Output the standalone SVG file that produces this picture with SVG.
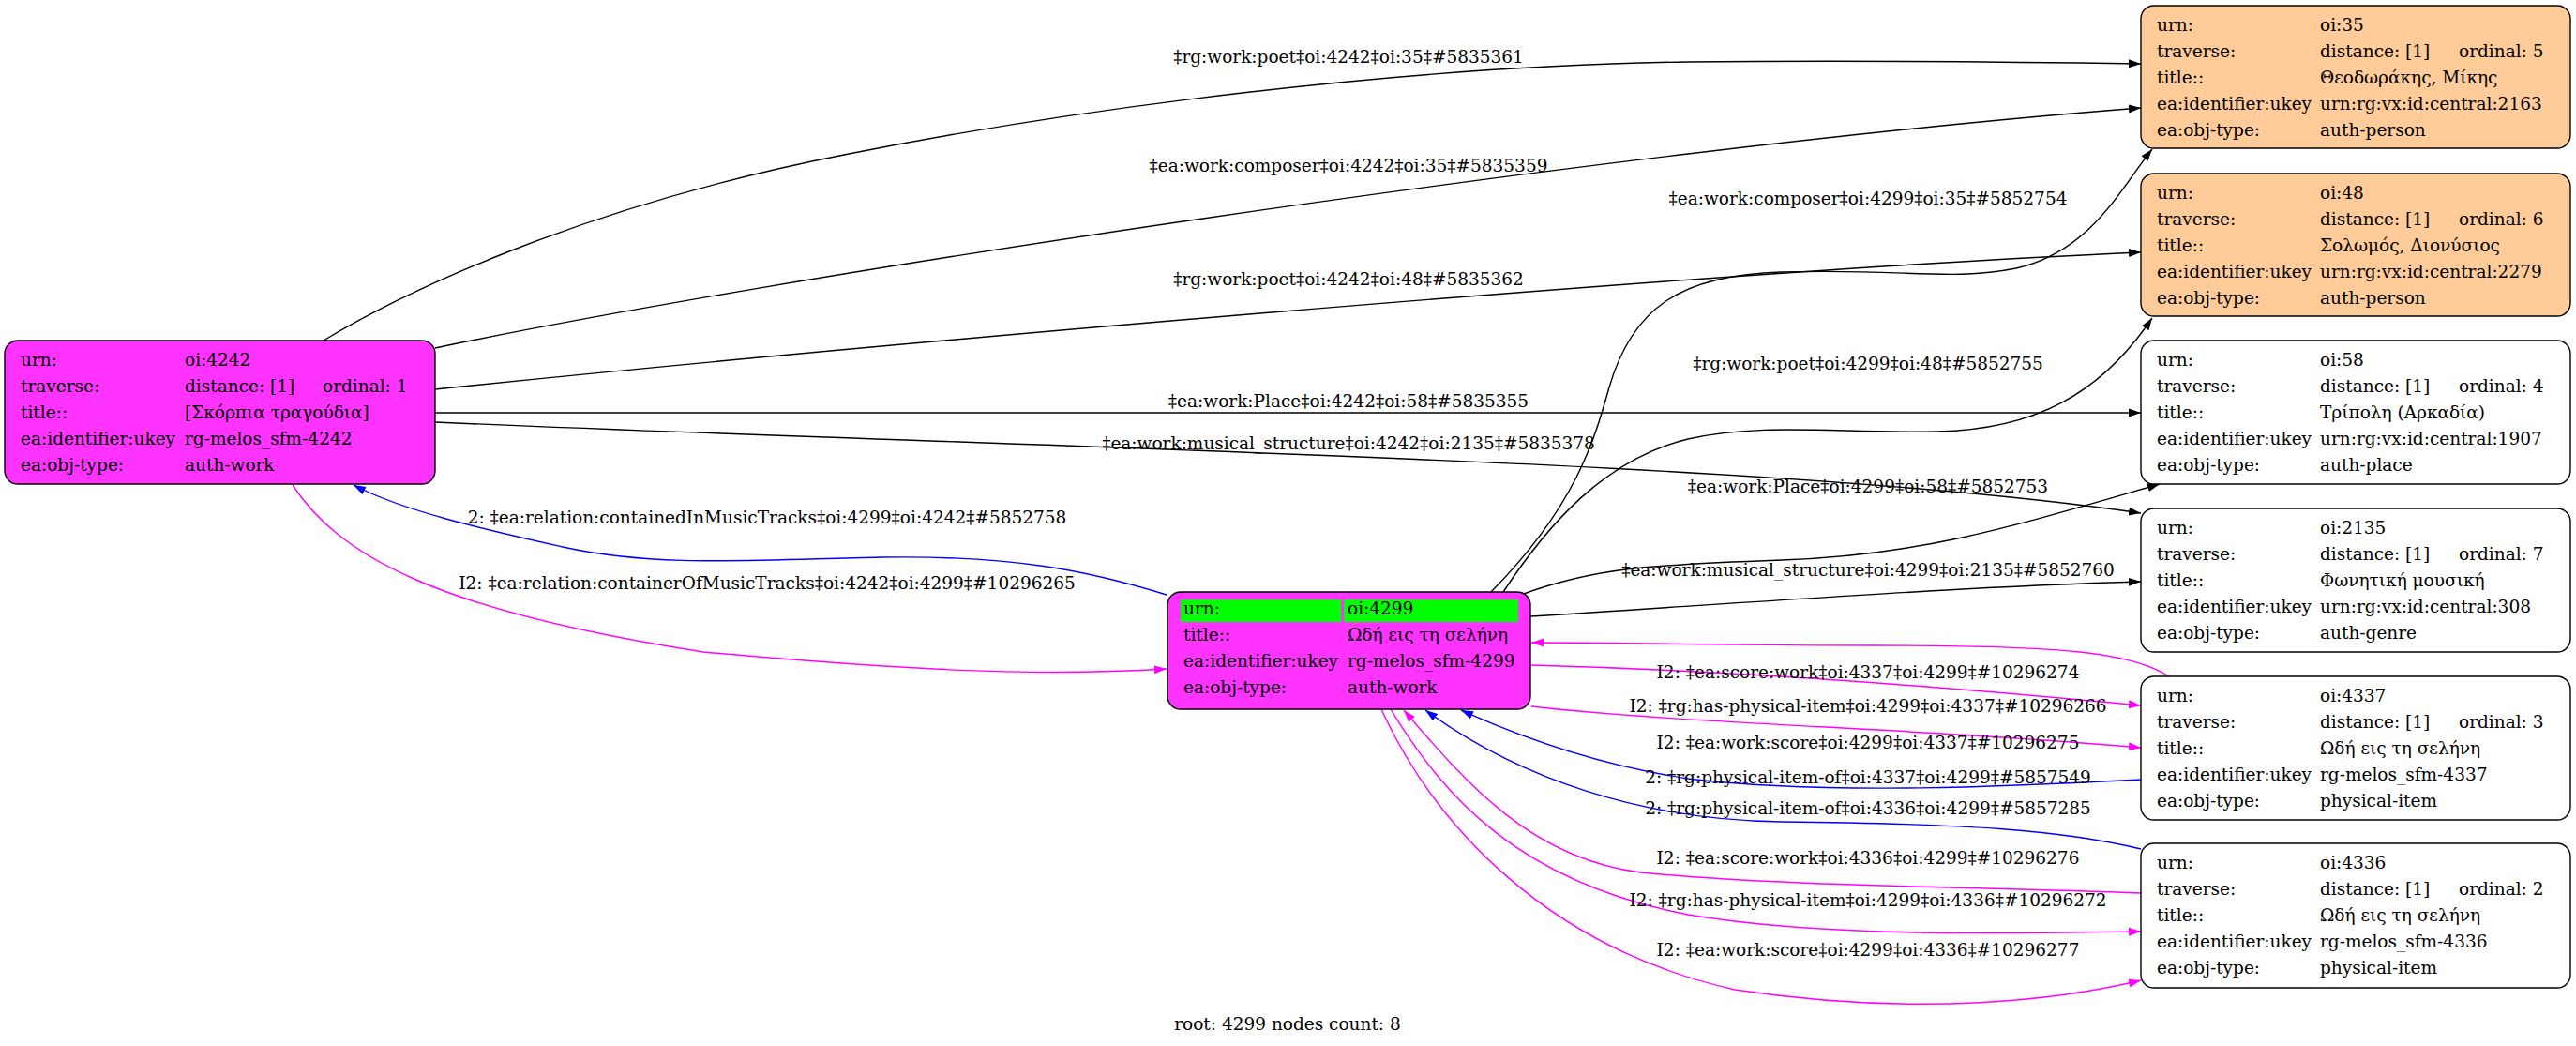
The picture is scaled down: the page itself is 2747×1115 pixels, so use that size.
<svg xmlns="http://www.w3.org/2000/svg" width="2747" height="1115" viewBox="0 0 2747 1115">
<style>
text { font-family: "DejaVu Serif", "Liberation Serif", serif; font-size: 18.5px; fill: #000; }
.box { stroke: #000; stroke-width: 1.4; }
.work { fill: #ff33ff; }
.person { fill: #ffcc99; }
.plain { fill: #ffffff; }
.hl { fill: #00ff00; }
.e { fill: none; stroke-width: 1.4; }
.k { stroke: #000000; }
.b { stroke: #0000ff; }
.m { stroke: #ff00ff; }
.lbl { text-anchor: middle; }
</style>
<defs>
<marker id="ak" markerUnits="userSpaceOnUse" markerWidth="14" markerHeight="10" refX="13" refY="5" orient="auto"><path d="M0,0.5 L13,5 L0,9.5 z" fill="#000000"/></marker>
<marker id="ab" markerUnits="userSpaceOnUse" markerWidth="14" markerHeight="10" refX="13" refY="5" orient="auto"><path d="M0,0.5 L13,5 L0,9.5 z" fill="#0000ff"/></marker>
<marker id="am" markerUnits="userSpaceOnUse" markerWidth="14" markerHeight="10" refX="13" refY="5" orient="auto"><path d="M0,0.5 L13,5 L0,9.5 z" fill="#ff00ff"/></marker>
</defs>
<rect width="2747" height="1115" fill="#ffffff"/>

<g id="connectors">
<path class="e k" marker-end="url(#ak)" d="M345,363 C 430,312 620,220 900,165 C 1150,115 1500,70 1800,66 C 2000,64 2150,66 2283,68"/>
<path class="e k" marker-end="url(#ak)" d="M464,371 C 800,300 1700,160 2283,115"/>
<path class="e k" marker-end="url(#ak)" d="M464,415 C 900,370 1800,290 2283,269"/>
<path class="e k" marker-end="url(#ak)" d="M464,440 L 2283,440"/>
<path class="e k" marker-end="url(#ak)" d="M464,450 C 1100,478 1900,490 2283,547"/>
<path class="e k" marker-end="url(#ak)" d="M1590,631 C 1680,540 1700,470 1716,413 C 1740,330 1790,293 1900,290 C 2030,286 2080,300 2150,286 C 2230,268 2262,200 2295,159"/>
<path class="e k" marker-end="url(#ak)" d="M1603,631 C 1650,560 1710,490 1800,468 C 1880,450 1960,462 2065,460 C 2170,458 2240,420 2295,339"/>
<path class="e k" marker-end="url(#ak)" d="M1622,634 C 1700,605 1760,602 1900,597 C 2050,592 2150,560 2303,516"/>
<path class="e k" marker-end="url(#ak)" d="M1632,657 C 1900,640 2100,625 2283,620"/>
<path class="e b" marker-end="url(#ab)" d="M1244,634 C 1160,608 1080,592 940,594 C 800,597 700,605 600,583 C 520,565 430,545 377,517"/>
<path class="e m" marker-end="url(#am)" d="M312,517 C 360,590 460,650 750,695 C 950,713 1100,722 1244,713"/>
<path class="e m" marker-end="url(#am)" d="M2313,721 C 2270,695 2200,688 2000,688 C 1850,688 1750,685 1633,685"/>
<path class="e m" marker-end="url(#am)" d="M1633,709 C 1850,715 2050,730 2283,752"/>
<path class="e m" marker-end="url(#am)" d="M1633,753 C 1800,772 2050,776 2283,797"/>
<path class="e b" marker-end="url(#ab)" d="M2283,831 C 2150,838 1950,848 1800,830 C 1700,815 1620,785 1558,757"/>
<path class="e b" marker-end="url(#ab)" d="M2283,905 C 2200,885 2100,878 1900,876 C 1750,874 1620,830 1520,757"/>
<path class="e m" marker-end="url(#am)" d="M2283,952 C 2100,945 1900,945 1750,930 C 1630,915 1560,830 1497,757"/>
<path class="e m" marker-end="url(#am)" d="M1483,756 C 1540,850 1620,940 1800,975 C 1950,1000 2150,995 2283,993"/>
<path class="e m" marker-end="url(#am)" d="M1473,756 C 1530,880 1650,1010 1850,1055 C 2050,1085 2200,1065 2283,1045"/>
<text class="lbl" x="1438" y="67">‡rg:work:poet‡oi:4242‡oi:35‡#5835361</text>
<text class="lbl" x="1438" y="183">‡ea:work:composer‡oi:4242‡oi:35‡#5835359</text>
<text class="lbl" x="1438" y="304">‡rg:work:poet‡oi:4242‡oi:48‡#5835362</text>
<text class="lbl" x="1438" y="434">‡ea:work:Place‡oi:4242‡oi:58‡#5835355</text>
<text class="lbl" x="1438" y="479">‡ea:work:musical_structure‡oi:4242‡oi:2135‡#5835378</text>
<text class="lbl" x="1992" y="218">‡ea:work:composer‡oi:4299‡oi:35‡#5852754</text>
<text class="lbl" x="1992" y="394">‡rg:work:poet‡oi:4299‡oi:48‡#5852755</text>
<text class="lbl" x="1992" y="525">‡ea:work:Place‡oi:4299‡oi:58‡#5852753</text>
<text class="lbl" x="1992" y="614">‡ea:work:musical_structure‡oi:4299‡oi:2135‡#5852760</text>
<text class="lbl" x="818" y="558">2: ‡ea:relation:containedInMusicTracks‡oi:4299‡oi:4242‡#5852758</text>
<text class="lbl" x="818" y="628">I2: ‡ea:relation:containerOfMusicTracks‡oi:4242‡oi:4299‡#10296265</text>
<text class="lbl" x="1992" y="723">I2: ‡ea:score:work‡oi:4337‡oi:4299‡#10296274</text>
<text class="lbl" x="1992" y="759">I2: ‡rg:has-physical-item‡oi:4299‡oi:4337‡#10296266</text>
<text class="lbl" x="1992" y="798">I2: ‡ea:work:score‡oi:4299‡oi:4337‡#10296275</text>
<text class="lbl" x="1992" y="835">2: ‡rg:physical-item-of‡oi:4337‡oi:4299‡#5857549</text>
<text class="lbl" x="1992" y="868">2: ‡rg:physical-item-of‡oi:4336‡oi:4299‡#5857285</text>
<text class="lbl" x="1992" y="921">I2: ‡ea:score:work‡oi:4336‡oi:4299‡#10296276</text>
<text class="lbl" x="1992" y="966">I2: ‡rg:has-physical-item‡oi:4299‡oi:4336‡#10296272</text>
<text class="lbl" x="1992" y="1019">I2: ‡ea:work:score‡oi:4299‡oi:4336‡#10296277</text>
</g>

<g id="n4242">
<rect class="box work" x="5" y="363" width="459" height="153" rx="14"/>
<text x="22" y="390">urn:</text><text x="197" y="390">oi:4242</text>
<text x="22" y="418">traverse:</text><text x="197" y="418">distance: [1]</text><text x="344" y="418">ordinal: 1</text>
<text x="22" y="446">title::</text><text x="197" y="446">[Σκόρπια τραγούδια]</text>
<text x="22" y="474">ea:identifier:ukey</text><text x="197" y="474">rg-melos_sfm-4242</text>
<text x="22" y="502">ea:obj-type:</text><text x="197" y="502">auth-work</text>
</g>

<g id="n4299">
<rect class="box work" x="1245" y="631" width="387" height="125" rx="14"/>
<rect class="hl" x="1259" y="639" width="171" height="24"/>
<rect class="hl" x="1433" y="639" width="186" height="24"/>
<text x="1262" y="655">urn:</text><text x="1437" y="655">oi:4299</text>
<text x="1262" y="683">title::</text><text x="1437" y="683">Ωδή εις τη σελήνη</text>
<text x="1262" y="711">ea:identifier:ukey</text><text x="1437" y="711">rg-melos_sfm-4299</text>
<text x="1262" y="739">ea:obj-type:</text><text x="1437" y="739">auth-work</text>
</g>

<g id="n35">
<rect class="box person" x="2283" y="6" width="458" height="152" rx="14"/>
<text x="2300" y="33">urn:</text><text x="2474" y="33">oi:35</text>
<text x="2300" y="61">traverse:</text><text x="2474" y="61">distance: [1]</text><text x="2622" y="61">ordinal: 5</text>
<text x="2300" y="89">title::</text><text x="2474" y="89">Θεοδωράκης, Μίκης</text>
<text x="2300" y="117">ea:identifier:ukey</text><text x="2474" y="117">urn:rg:vx:id:central:2163</text>
<text x="2300" y="145">ea:obj-type:</text><text x="2474" y="145">auth-person</text>
</g>

<g id="n48">
<rect class="box person" x="2283" y="185" width="458" height="152" rx="14"/>
<text x="2300" y="212">urn:</text><text x="2474" y="212">oi:48</text>
<text x="2300" y="240">traverse:</text><text x="2474" y="240">distance: [1]</text><text x="2622" y="240">ordinal: 6</text>
<text x="2300" y="268">title::</text><text x="2474" y="268">Σολωμός, Διονύσιος</text>
<text x="2300" y="296">ea:identifier:ukey</text><text x="2474" y="296">urn:rg:vx:id:central:2279</text>
<text x="2300" y="324">ea:obj-type:</text><text x="2474" y="324">auth-person</text>
</g>

<g id="n58">
<rect class="box plain" x="2283" y="363" width="458" height="153" rx="14"/>
<text x="2300" y="390">urn:</text><text x="2474" y="390">oi:58</text>
<text x="2300" y="418">traverse:</text><text x="2474" y="418">distance: [1]</text><text x="2622" y="418">ordinal: 4</text>
<text x="2300" y="446">title::</text><text x="2474" y="446">Τρίπολη (Αρκαδία)</text>
<text x="2300" y="474">ea:identifier:ukey</text><text x="2474" y="474">urn:rg:vx:id:central:1907</text>
<text x="2300" y="502">ea:obj-type:</text><text x="2474" y="502">auth-place</text>
</g>

<g id="n2135">
<rect class="box plain" x="2283" y="542" width="458" height="153" rx="14"/>
<text x="2300" y="569">urn:</text><text x="2474" y="569">oi:2135</text>
<text x="2300" y="597">traverse:</text><text x="2474" y="597">distance: [1]</text><text x="2622" y="597">ordinal: 7</text>
<text x="2300" y="625">title::</text><text x="2474" y="625">Φωνητική μουσική</text>
<text x="2300" y="653">ea:identifier:ukey</text><text x="2474" y="653">urn:rg:vx:id:central:308</text>
<text x="2300" y="681">ea:obj-type:</text><text x="2474" y="681">auth-genre</text>
</g>

<g id="n4337">
<rect class="box plain" x="2283" y="721" width="458" height="153" rx="14"/>
<text x="2300" y="748">urn:</text><text x="2474" y="748">oi:4337</text>
<text x="2300" y="776">traverse:</text><text x="2474" y="776">distance: [1]</text><text x="2622" y="776">ordinal: 3</text>
<text x="2300" y="804">title::</text><text x="2474" y="804">Ωδή εις τη σελήνη</text>
<text x="2300" y="832">ea:identifier:ukey</text><text x="2474" y="832">rg-melos_sfm-4337</text>
<text x="2300" y="860">ea:obj-type:</text><text x="2474" y="860">physical-item</text>
</g>

<g id="n4336">
<rect class="box plain" x="2283" y="899" width="458" height="154" rx="14"/>
<text x="2300" y="926">urn:</text><text x="2474" y="926">oi:4336</text>
<text x="2300" y="954">traverse:</text><text x="2474" y="954">distance: [1]</text><text x="2622" y="954">ordinal: 2</text>
<text x="2300" y="982">title::</text><text x="2474" y="982">Ωδή εις τη σελήνη</text>
<text x="2300" y="1010">ea:identifier:ukey</text><text x="2474" y="1010">rg-melos_sfm-4336</text>
<text x="2300" y="1038">ea:obj-type:</text><text x="2474" y="1038">physical-item</text>
</g>

<text class="lbl" x="1373" y="1098">root: 4299 nodes count: 8</text>
</svg>
